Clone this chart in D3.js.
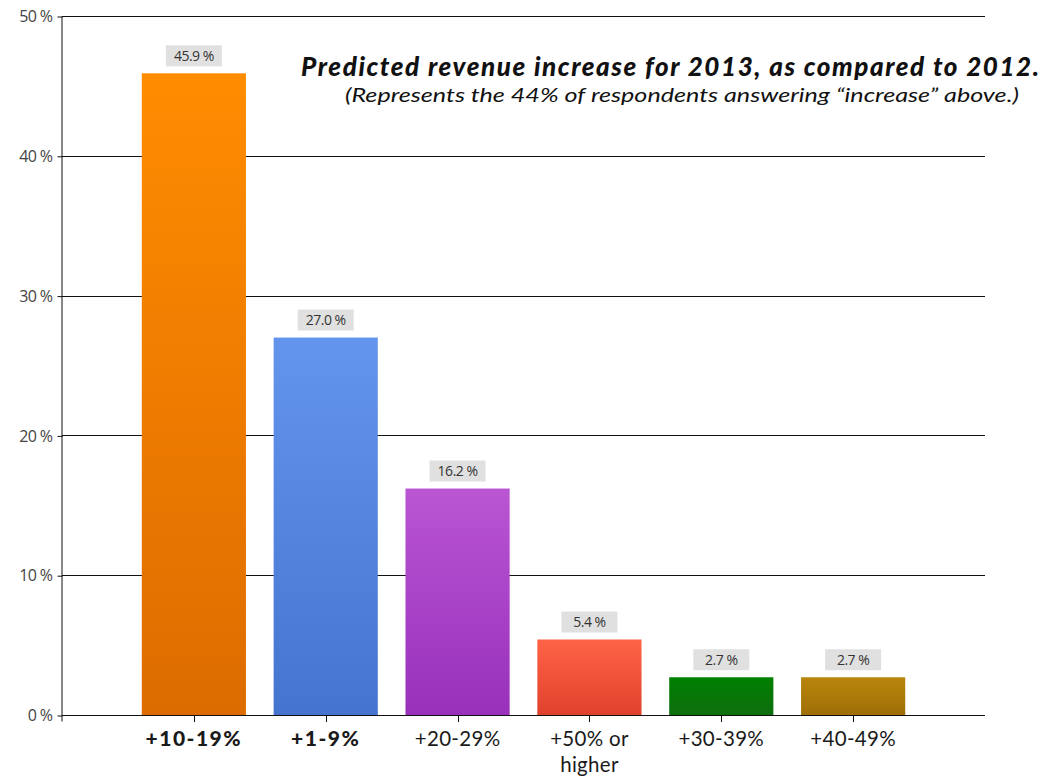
<!DOCTYPE html>
<html>
<head>
<meta charset="utf-8">
<script src="https://cdn.jsdelivr.net/npm/d3@7"></script>
<style>
  html, body { margin: 0; padding: 0; background: #fff; }
  svg { display: block; }
</style>
</head>
<body>
<svg id="chart" width="1054" height="776"></svg>
<script>
// Revenue increase buckets and their share of respondents (%)
const categories = ["+10-19%", "+1-9%", "+20-29%", "+50% or higher", "+30-39%", "+40-49%"];
const values = [45.9, 27.0, 16.2, 5.4, 2.7, 2.7];
const boldCategories = ["+10-19%", "+1-9%"];
const barTopColors = ["#ff8c00", "#6495ed", "#ba55d3", "#ff6347", "#008000", "#b8860b"];
const barBottomColors = ["#dd6c00", "#4474cf", "#9830bb", "#e0412c", "#0e6e0e", "#9e6f08"];
const yTicks = [0, 10, 20, 30, 40, 50];
const titleText = "Predicted revenue increase for 2013, as compared to 2012.";
const subtitleText = "(Represents the 44% of respondents answering \u201cincrease\u201d above.)";

const svg = d3.select("#chart");
const margin = { left: 62, right: 69, top: 16, bottom: 61 };
const W = 1054, H = 776;
const x0 = margin.left, x1 = W - margin.right;
const yTop = margin.top, yBot = H - margin.bottom;

// The category axis reserves one extra empty slot so bars sit at slot boundaries
const slots = d3.range(categories.length + 1);
const xs = d3.scaleLinear().domain([0, categories.length + 1]).range([x0, x1]);
const step = xs(1) - xs(0);
const barW = step * 0.79;
const y = d3.scaleLinear().domain([0, 50]).range([yBot, yTop]);

const defs = svg.append("defs");
categories.forEach((c, i) => {
  const g = defs.append("linearGradient")
    .attr("id", "grad" + i).attr("x1", 0).attr("y1", 0).attr("x2", 0).attr("y2", 1);
  g.append("stop").attr("offset", "0%").attr("stop-color", barTopColors[i]);
  g.append("stop").attr("offset", "100%").attr("stop-color", barBottomColors[i]);
});

// Horizontal gridlines
svg.append("g").selectAll("line").data(yTicks).join("line")
  .attr("x1", x0).attr("x2", x1)
  .attr("y1", d => Math.round(y(d)) + 0.5).attr("y2", d => Math.round(y(d)) + 0.5)
  .attr("stroke", "#111").attr("stroke-width", 1);

// Y axis
const yAxis = d3.axisLeft(y).tickValues(yTicks).tickSize(5).tickPadding(5)
  .tickFormat(d => d + " %");
const yg = svg.append("g").attr("transform", `translate(${x0 + 0.5},0.5)`).call(yAxis);
yg.select(".domain").attr("d", `M-0.5,${yTop}V${yBot + 6}`).attr("stroke", "#111");
yg.selectAll(".tick line").attr("stroke", "#111");
yg.selectAll(".tick text")
  .style("font-family", "'Segoe UI', 'Open Sans', 'Noto Sans', sans-serif")
  .style("font-size", "16px").attr("fill", "#444").attr("letter-spacing", "-0.6");

// Bars
svg.append("g").selectAll("rect").data(values).join("rect")
  .attr("x", (d, i) => xs(i + 1) - barW / 2)
  .attr("width", barW)
  .attr("y", d => y(d))
  .attr("height", d => y(0) - y(d))
  .attr("fill", (d, i) => `url(#grad${i})`);

// Value labels in grey boxes
const lbl = svg.append("g").selectAll("g").data(values).join("g")
  .attr("transform", (d, i) => `translate(${xs(i + 1)},${y(d) - 17})`);
lbl.append("rect").attr("x", -28).attr("y", -11).attr("width", 56).attr("height", 21)
  .attr("fill", "#e0e0e0");
lbl.append("text").attr("text-anchor", "middle").attr("dy", "0.35em")
  .style("font-family", "'Segoe UI', 'Open Sans', 'Noto Sans', sans-serif")
  .style("font-size", "14px").attr("fill", "#333").attr("letter-spacing", "-0.5")
  .text(d => d.toFixed(1) + " %");

// X axis baseline and ticks
const xg = svg.append("g");
xg.append("line").attr("x1", x0).attr("x2", x1)
  .attr("y1", Math.round(yBot) + 0.5).attr("y2", Math.round(yBot) + 0.5)
  .attr("stroke", "#111");
xg.selectAll("line.tick").data(slots.slice(1)).join("line").attr("class", "tick")
  .attr("x1", d => Math.round(xs(d)) + 0.5).attr("x2", d => Math.round(xs(d)) + 0.5)
  .attr("y1", yBot).attr("y2", yBot + 7).attr("stroke", "#111");

// Category labels (wrapped onto two lines where needed)
const catLabels = svg.append("g").selectAll("text").data(categories).join("text")
  .attr("x", (d, i) => xs(i + 1))
  .attr("y", yBot + 31)
  .attr("text-anchor", "middle")
  .attr("font-family", "'Lato', 'Open Sans', sans-serif")
  .attr("font-size", d => boldCategories.includes(d) ? 21 : 20.5)
  .attr("font-weight", d => boldCategories.includes(d) ? 900 : "normal")
  .attr("letter-spacing", d => boldCategories.includes(d) ? 1.5 : 0.3)
  .attr("fill", "#1a1a1a");
catLabels.each(function(d, i) {
  const t = d3.select(this);
  const parts = d === "+50% or higher" ? ["+50% or", "higher"] : [d];
  parts.forEach((p, k) => {
    t.append("tspan").attr("x", xs(i + 1)).attr("dy", k === 0 ? 0 : 26).text(p);
  });
});

// Title and subtitle
svg.append("text").attr("x", 670).attr("y", 76).attr("text-anchor", "middle")
  .attr("font-family", "'Lato', 'Open Sans', sans-serif")
  .attr("font-size", 26).attr("font-weight", 900).attr("font-style", "italic")
  .attr("textLength", 738).attr("lengthAdjust", "spacing")
  .attr("fill", "#111").text(titleText);
svg.append("text").attr("x", 682).attr("y", 102).attr("text-anchor", "middle")
  .attr("font-family", "'Lato', 'Open Sans', sans-serif")
  .attr("font-size", 19).attr("font-style", "italic")
  .attr("textLength", 674).attr("lengthAdjust", "spacingAndGlyphs")
  .attr("fill", "#111").text(subtitleText);
</script>
</body>
</html>
